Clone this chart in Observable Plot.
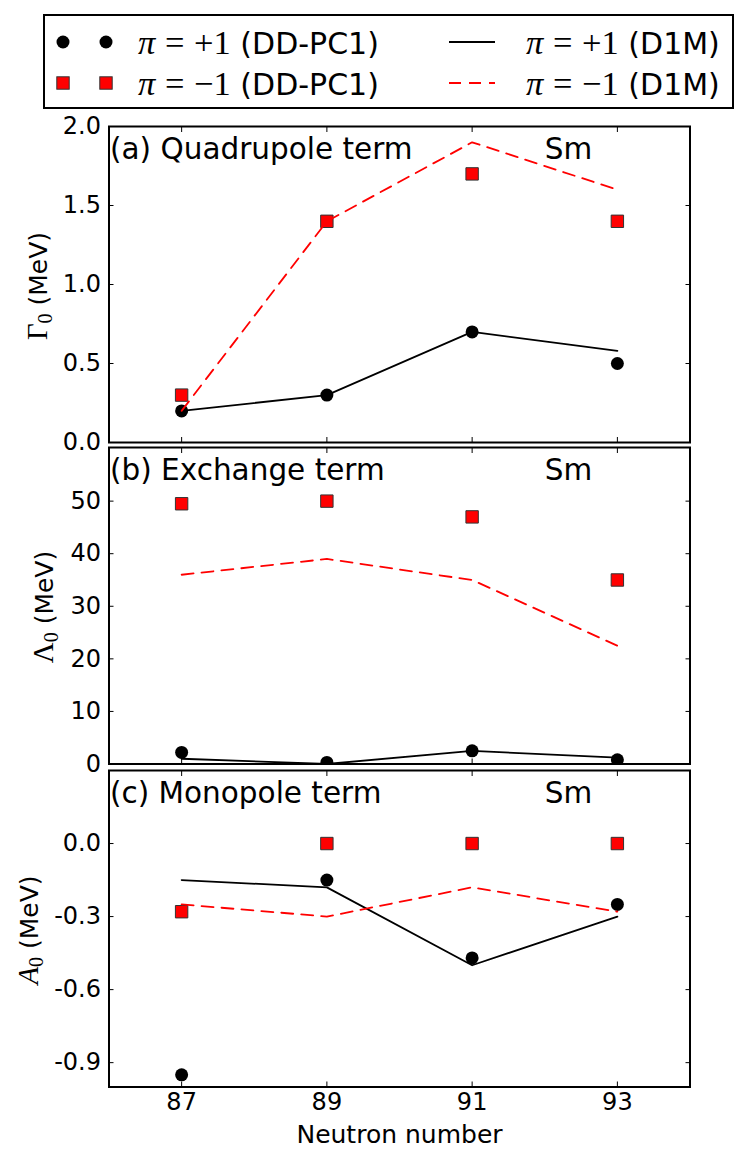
<!DOCTYPE html>
<html>
<head>
<meta charset="utf-8">
<script src="https://cdn.jsdelivr.net/npm/d3@7"></script>
<script src="https://cdn.jsdelivr.net/npm/@observablehq/plot@0.6"></script>
<style>
  body { margin: 0; background: #fff; }
  #page { position: relative; width: 749px; height: 1159px; overflow: hidden; font-family: "DejaVu Sans"; color: #000; }
  .panel { position: absolute; left: 0; }
  .math { font-family: "Liberation Serif", "DejaVu Serif", serif; font-size: 1.15em; }
  .it { font-style: italic; }
  .op { margin: 0 0.28em; }
  .legend { position: absolute; left: 43px; top: 14px; width: 691px; height: 95px; border: 2px solid #000; box-sizing: border-box; background: #fff; }
  .lg { position: absolute; white-space: nowrap; font-size: 30px; line-height: 1; transform: translateY(-50%); }
  .ylab { position: absolute; white-space: nowrap; font-size: 25px; line-height: 1; transform: translate(-50%, -50%) rotate(-90deg); }
  sub { font-size: 0.7em; vertical-align: -0.25em; line-height: 0; }
  .sw { position: absolute; }
</style>
</head>
<body>
<div id="page"></div>
<script>
// Neutron numbers of the Sm isotopes
const neutronNumbers = [87, 89, 91, 93];

// (a) Quadrupole term, Γ0 (MeV)
const gammaPlusPC1  = [0.2, 0.3, 0.7, 0.5];
const gammaMinusPC1 = [0.3, 1.4, 1.7, 1.4];
const gammaPlusD1M  = [0.2, 0.3, 0.7, 0.58];
const gammaMinusD1M = [0.2, 1.4, 1.9, 1.6];
const gammaTicks = [0, 0.5, 1.0, 1.5, 2.0];

// (b) Exchange term, Λ0 (MeV)
const lambdaPlusPC1  = [2.2, 0.3, 2.5, 0.8];
const lambdaMinusPC1 = [49.5, 50, 47, 35];
const lambdaPlusD1M  = [1.0, 0, 2.5, 1.2];
const lambdaMinusD1M = [36, 39, 35, 22.5];
const lambdaTicks = [0, 10, 20, 30, 40, 50];

// (c) Monopole term, A0 (MeV)
const monoPlusPC1  = [-0.95, -0.15, -0.47, -0.25];
const monoMinusPC1 = [-0.28, 0, 0, 0];
const monoPlusD1M  = [-0.15, -0.18, -0.5, -0.3];
const monoMinusD1M = [-0.25, -0.3, -0.18, -0.28];
const monoTicks = [0, -0.3, -0.6, -0.9];

const panelTitles = ["(a) Quadrupole term", "(b) Exchange term", "(c) Monopole term"];
const elementName = "Sm";
const elementLabelX = 92.0;
const xLabel = "Neutron number";

const page = document.getElementById("page");
const oneDecimal = d => d.toFixed(1);
const integer = d => String(d);

function panel({plus, minus, plusLine, minusLine, domain, ticks, format, title, top, marginTop, plotHeight, marginBottom, last}) {
  const rows = neutronNumbers.map((n, i) => ({n, plus: plus[i], minus: minus[i], plusLine: plusLine[i], minusLine: minusLine[i]}));
  const marks = [
    Plot.dot(rows, {x: "n", y: "minus", symbol: "square", r: 7, fill: "red", stroke: "#333", strokeWidth: 1, clip: true}),
    Plot.dot(rows, {x: "n", y: "plus", r: 6.5, fill: "black", stroke: "none", clip: true}),
    Plot.line(rows, {x: "n", y: "plusLine", stroke: "black", strokeWidth: 1.8, clip: true}),
    Plot.line(rows, {x: "n", y: "minusLine", stroke: "red", strokeWidth: 1.8, strokeDasharray: "12,8", clip: true}),
    // inward ticks on all four sides
    Plot.axisY({anchor: "left", ticks, tickFormat: format, tickSize: 5, dx: 5, tickPadding: 8, fontSize: 24, label: null}),
    Plot.axisY({anchor: "right", ticks, tickFormat: () => "", tickSize: 5, dx: -5, label: null}),
    Plot.axisX({anchor: "top", ticks: neutronNumbers, tickFormat: () => "", tickSize: 5, dy: 5, label: null}),
    Plot.axisX({anchor: "bottom", ticks: neutronNumbers, tickFormat: last ? integer : () => "", tickSize: 5, dy: -5, tickPadding: 6, fontSize: 24, label: null}),
    Plot.frame({stroke: "black", strokeWidth: 2}),
    Plot.text([title], {frameAnchor: "top-left", textAnchor: "start", lineAnchor: "top", dx: 1, dy: 12, fontSize: 29.5}),
    Plot.text([{x: elementLabelX, t: elementName}], {x: "x", text: "t", frameAnchor: "top", textAnchor: "start", lineAnchor: "top", dy: 12, fontSize: 29.5})
  ];
  if (last) marks.push(Plot.text([xLabel], {frameAnchor: "bottom", lineAnchor: "top", dy: 38, fontSize: 25}));
  const svg = Plot.plot({
    width: 749,
    height: marginTop + plotHeight + marginBottom,
    marginLeft: 108.5,
    marginRight: 59.5,
    marginTop,
    marginBottom,
    x: {domain: [86, 94]},
    y: {domain},
    style: {background: "none", overflow: "visible", fontFamily: "DejaVu Sans", color: "black"},
    marks
  });
  svg.classList.add("panel");
  svg.style.top = top + "px";
  page.appendChild(svg);
}

panel({plus: gammaPlusPC1, minus: gammaMinusPC1, plusLine: gammaPlusD1M, minusLine: gammaMinusD1M,
  domain: [0, 2.0], ticks: gammaTicks, format: oneDecimal, title: panelTitles[0],
  top: 116, marginTop: 10, plotHeight: 316, marginBottom: 5, last: false});
panel({plus: lambdaPlusPC1, minus: lambdaMinusPC1, plusLine: lambdaPlusD1M, minusLine: lambdaMinusD1M,
  domain: [0, 60.2], ticks: lambdaTicks, format: integer, title: panelTitles[1],
  top: 437, marginTop: 10, plotHeight: 316.5, marginBottom: 5, last: false});
panel({plus: monoPlusPC1, minus: monoMinusPC1, plusLine: monoPlusD1M, minusLine: monoMinusD1M,
  domain: [-1.0, 0.3], ticks: monoTicks, format: oneDecimal, title: panelTitles[2],
  top: 760, marginTop: 10, plotHeight: 316.5, marginBottom: 73, last: true});

// y-axis titles
const yTitles = [
  {html: '<span class="math">Γ<sub>0</sub></span> (MeV)', x: 37, y: 286},
  {html: '<span class="math">Λ<sub>0</sub></span> (MeV)', x: 43, y: 607},
  {html: '<span class="math"><span class="it">A</span><sub>0</sub></span> (MeV)', x: 28, y: 930}
];
for (const t of yTitles) {
  const d = document.createElement("div");
  d.className = "ylab";
  d.style.left = t.x + "px";
  d.style.top = t.y + "px";
  d.innerHTML = t.html;
  page.appendChild(d);
}

// legend
const legend = document.createElement("div");
legend.className = "legend";
page.appendChild(legend);
const svgNS = "http://www.w3.org/2000/svg";
function swatch(x, y, w, h, draw) {
  const s = document.createElementNS(svgNS, "svg");
  s.setAttribute("class", "sw");
  s.setAttribute("width", w);
  s.setAttribute("height", h);
  s.style.left = (x - w / 2) + "px";
  s.style.top = (y - h / 2) + "px";
  s.innerHTML = draw;
  page.appendChild(s);
}
function label(x, y, html) {
  const d = document.createElement("div");
  d.className = "lg";
  d.style.left = x + "px";
  d.style.top = y + "px";
  d.innerHTML = html;
  page.appendChild(d);
}
const row1 = 42, row2 = 83;
for (const cx of [63, 106]) {
  swatch(cx, row1, 16, 16, '<circle cx="8" cy="8" r="6.5" fill="black"/>');
  swatch(cx, row2, 16, 16, '<rect x="1.8" y="1.8" width="12.4" height="12.4" fill="red" stroke="#333" stroke-width="1"/>');
}
swatch(472, row1, 46, 6, '<line x1="0" y1="3" x2="46" y2="3" stroke="black" stroke-width="2"/>');
swatch(472, row2, 46, 6, '<line x1="0" y1="3" x2="46" y2="3" stroke="red" stroke-width="2" stroke-dasharray="12,8"/>');
const piPlus = '<span class="math"><span class="it">π</span><span class="op">=</span>+1</span>';
const piMinus = '<span class="math"><span class="it">π</span><span class="op">=</span>−1</span>';
label(138, row1, piPlus + ' (DD-PC1)');
label(138, row2, piMinus + ' (DD-PC1)');
label(526, row1, piPlus + ' (D1M)');
label(526, row2, piMinus + ' (D1M)');
</script>
</body>
</html>
